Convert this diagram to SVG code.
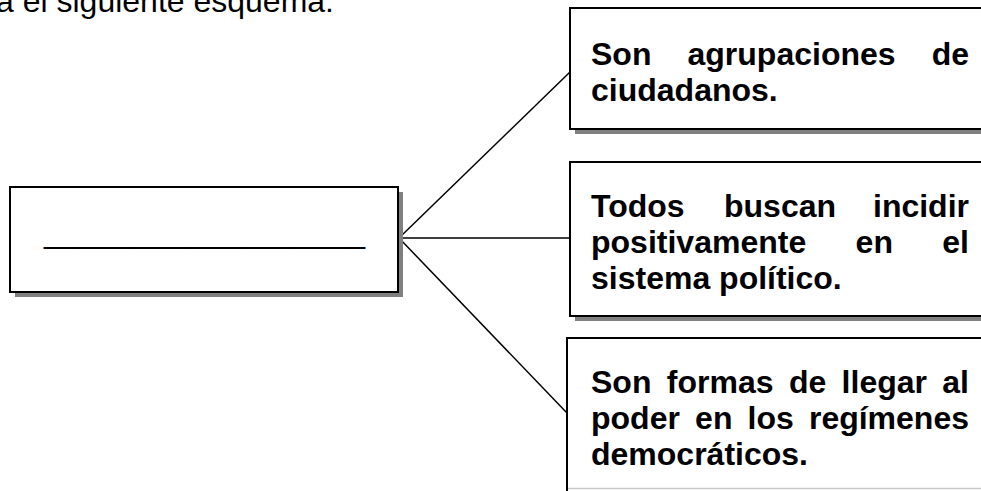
<svg xmlns="http://www.w3.org/2000/svg" width="981" height="491" viewBox="0 0 981 491">
<defs>
<style>
.box{fill:#fff;stroke:#000;stroke-width:2}
.shadow{fill:#808080}
.t{font-family:"Liberation Sans",Arial,sans-serif;font-size:32px;font-weight:bold;fill:#000}
.body{font-family:"Liberation Sans",Arial,sans-serif;font-size:32px;fill:#000}
.conn{stroke:#000;stroke-width:1.5;fill:none}
</style>
</defs>
<rect width="981" height="491" fill="#fff"/>
<text class="body" x="-4" y="12">a el siguiente esquema:</text>
<g id="connectors">
<line class="conn" x1="399" y1="238" x2="570" y2="72"/>
<line class="conn" x1="399" y1="238" x2="572" y2="238"/>
<line class="conn" x1="399" y1="238" x2="567" y2="413"/>
</g>
<g id="center">
<rect class="shadow" x="15" y="192" width="388" height="105"/>
<rect class="box" x="10" y="187" width="388" height="105"/>
<text class="body" x="44" y="243" textLength="321" lengthAdjust="spacingAndGlyphs">__________________</text>
</g>
<g id="box1">
<rect class="shadow" x="575" y="13" width="420" height="121"/>
<rect class="box" x="570" y="8" width="420" height="121"/>
<text class="t" y="65"><tspan x="591">Son</tspan><tspan x="687.5">agrupaciones</tspan><tspan x="969" text-anchor="end">de</tspan></text>
<text class="t" x="591" y="101">ciudadanos.</text>
</g>
<g id="box2">
<rect class="shadow" x="575" y="167" width="420" height="154"/>
<rect class="box" x="570" y="162" width="420" height="154"/>
<text class="t" y="217"><tspan x="591">Todos</tspan><tspan x="724">buscan</tspan><tspan x="969" text-anchor="end">incidir</tspan></text>
<text class="t" y="253"><tspan x="591">positivamente</tspan><tspan x="855.6">en</tspan><tspan x="969" text-anchor="end">el</tspan></text>
<text class="t" x="591" y="289">sistema político.</text>
</g>
<g id="box3">
<rect class="shadow" x="572" y="343" width="420" height="160"/>
<rect class="box" x="567" y="338" width="420" height="160"/>
<line x1="568" y1="488.5" x2="981" y2="488.5" stroke="#c8c8c8" stroke-width="1.5"/>
<text class="t" y="393"><tspan x="591">Son</tspan><tspan x="666.8">formas</tspan><tspan x="788.9">de</tspan><tspan x="841.6">llegar</tspan><tspan x="969" text-anchor="end">al</tspan></text>
<text class="t" y="429"><tspan x="591">poder</tspan><tspan x="695.1">en</tspan><tspan x="747.6">los</tspan><tspan x="969" text-anchor="end">regímenes</tspan></text>
<text class="t" x="591" y="465">democráticos.</text>
</g>
</svg>
